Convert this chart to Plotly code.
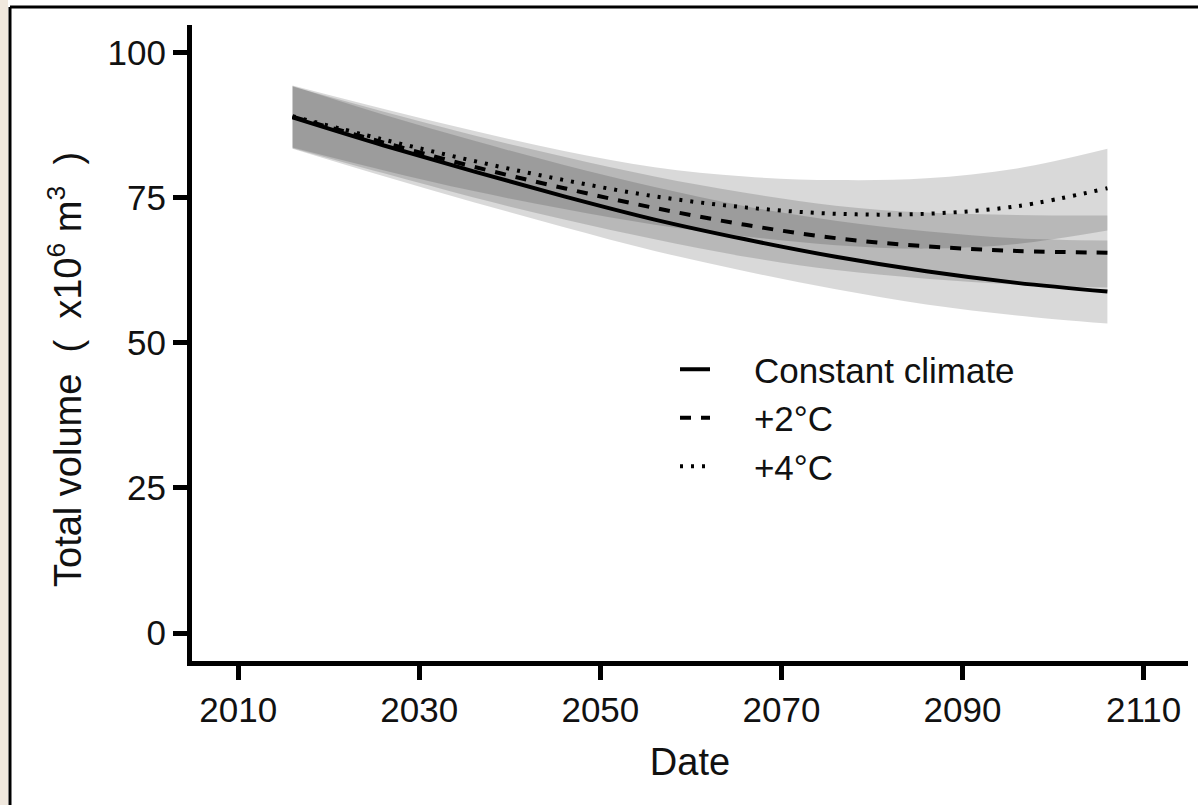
import plotly.graph_objects as go

# ---------------- data ----------------
years = [2016, 2026, 2036, 2046, 2056, 2066, 2076, 2086, 2096, 2106]

series_names = ["Constant climate", "+2°C", "+4°C"]

const_mean = [88.8, 84.0, 79.5, 75.2, 71.2, 67.8, 64.8, 62.3, 60.3, 58.8]
const_low = [83.4, 78.7, 74.2, 69.9, 65.8, 62.3, 59.2, 56.6, 54.7, 53.3]
const_high = [94.2, 89.3, 84.8, 80.6, 76.8, 73.5, 71.0, 69.2, 68.0, 67.6]

plus2_mean = [88.9, 84.5, 80.3, 76.6, 73.2, 70.3, 68.0, 66.6, 65.8, 65.5]
plus2_low = [83.5, 79.2, 75.0, 71.2, 67.8, 64.8, 62.5, 61.0, 60.0, 59.5]
plus2_high = [94.1, 89.8, 85.7, 82.0, 78.6, 75.8, 73.6, 72.4, 72.0, 71.9]

plus4_mean = [89.0, 85.0, 81.3, 78.0, 75.2, 73.3, 72.2, 72.2, 73.5, 76.6]
plus4_low = [83.6, 79.7, 76.1, 73.0, 70.3, 68.3, 66.8, 66.2, 67.0, 69.3]
plus4_high = [94.3, 90.3, 86.5, 83.0, 80.2, 78.6, 78.0, 78.3, 80.0, 83.4]

x_ticks = [2010, 2030, 2050, 2070, 2090, 2110]
y_ticks = [0, 25, 50, 75, 100]

# ---------------- figure ----------------
FONT = "Liberation Sans, Arial, sans-serif"
TXT = "#111111"
W, H = 1198, 805
L, R, T, B = 192, 10, 25, 144
PW, PH = W - L - R, H - T - B
NBSP = "\u00a0"

def px_x(p):
    return (p - L) / PW

def px_y(p):
    return (H - B - p) / PH

fig = go.Figure()

ribbon_fill = "rgba(0,0,0,0.15)"
for lo, hi in [(const_low, const_high), (plus2_low, plus2_high), (plus4_low, plus4_high)]:
    fig.add_trace(go.Scatter(x=years, y=lo, mode="lines", line=dict(width=0, shape="spline"),
                             showlegend=False, hoverinfo="skip"))
    fig.add_trace(go.Scatter(x=years, y=hi, mode="lines", line=dict(width=0, shape="spline"),
                             fill="tonexty", fillcolor=ribbon_fill,
                             showlegend=False, hoverinfo="skip"))

line_styles = ["solid", "11px,10px", "3px,8px"]
for name, ys, dash in zip(series_names, [const_mean, plus2_mean, plus4_mean], line_styles):
    fig.add_trace(go.Scatter(x=years, y=ys, mode="lines", name=NBSP * 3 + " " + name,
                             line=dict(color="black", width=4, dash=dash, shape="spline")))

axis_common = dict(
    showline=True, linecolor="black", linewidth=5,
    ticks="outside", tickcolor="black", ticklen=14, tickwidth=5,
    showgrid=False, zeroline=False,
    tickfont=dict(family=FONT, size=35, color=TXT),
)

fig.update_xaxes(range=[2004.9, 2114.9], tickvals=x_ticks,
                 title=dict(text="Date", font=dict(family=FONT, size=38, color=TXT), standoff=22),
                 **axis_common)
fig.update_yaxes(range=[-4.8, 104.7], tickvals=y_ticks, **axis_common)

fig.add_annotation(
    text="Total volume  (  x10<sup>6</sup> m<sup>3</sup>  )",
    xref="paper", yref="paper", x=px_x(65), y=px_y(370),
    xanchor="center", yanchor="middle", textangle=-90, showarrow=False,
    font=dict(family=FONT, size=38, color=TXT),
)

shapes = [
    dict(type="rect", xref="paper", yref="paper", x0=px_x(0), x1=px_x(8), y0=px_y(805), y1=px_y(0),
         fillcolor="rgb(240,232,222)", line=dict(width=0), layer="below"),
    dict(type="line", xref="paper", yref="paper", x0=px_x(10), x1=px_x(10), y0=px_y(805), y1=px_y(7),
         line=dict(color="black", width=3)),
    dict(type="line", xref="paper", yref="paper", x0=px_x(10), x1=px_x(1198), y0=px_y(7), y1=px_y(7),
         line=dict(color="black", width=3)),
]

fig.update_layout(
    width=W, height=H,
    margin=dict(l=L, r=R, t=T, b=B, pad=0),
    paper_bgcolor="white", plot_bgcolor="white",
    font=dict(family=FONT, size=38, color=TXT),
    shapes=shapes,
    showlegend=True,
    legend=dict(x=px_x(675), y=px_y(340), xanchor="left", yanchor="top",
                traceorder="normal",
                bgcolor="rgba(0,0,0,0)", font=dict(family=FONT, size=35, color=TXT),
                tracegroupgap=0),
)

fig.write_html("out.html")
